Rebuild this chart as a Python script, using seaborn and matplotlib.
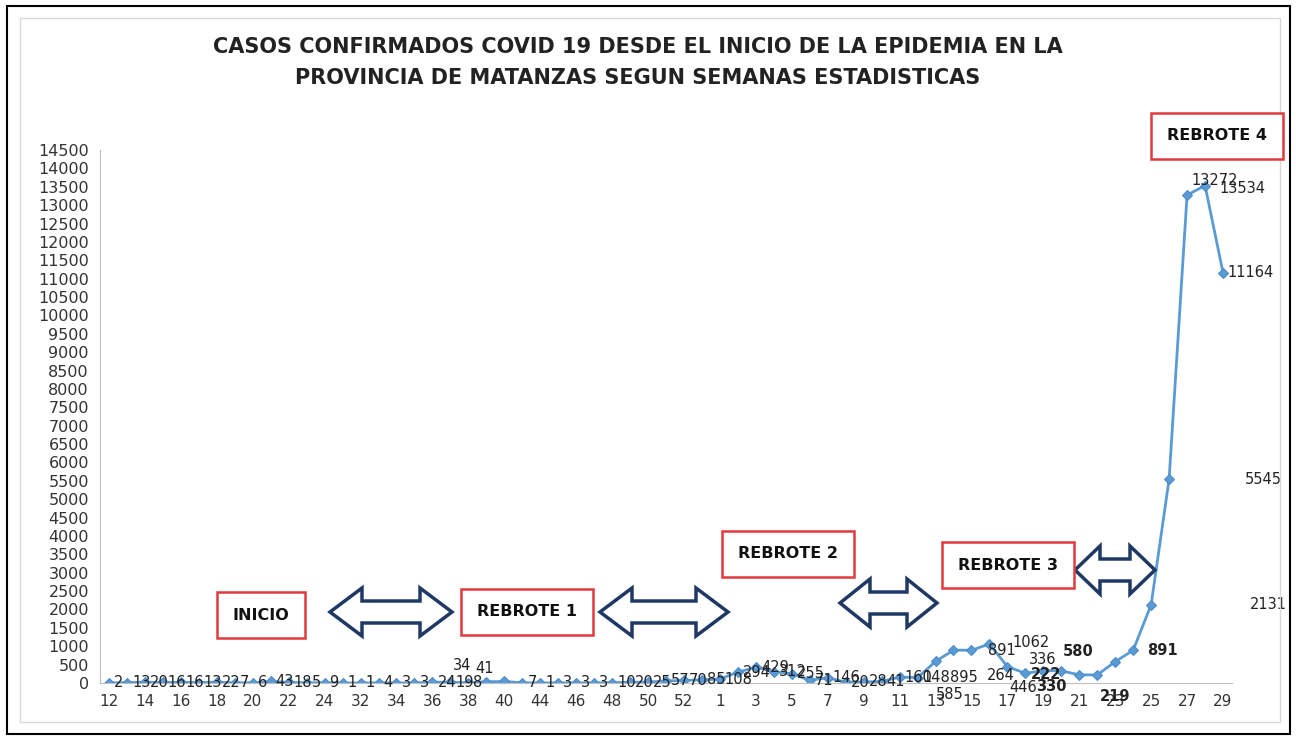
import pandas as pd
import matplotlib.pyplot as plt
import seaborn as sns
from matplotlib.patches import Polygon, Rectangle

# statistical weeks (2020 -> 2021) and confirmed cases
weeks = ['12', '13', '14', '15', '16', '17', '18', '19', '20', '21', '22', '23', '24',
         '31', '32', '33', '34', '35', '36', '37', '38', '39', '40', '42',
         '44', '45', '46', '47', '48', '49', '50', '51', '52', '53',
         '1', '2', '3', '4', '5', '6', '7', '8', '9', '10', '11', '12', '13', '14',
         '15', '16', '17', '18', '19', '20', '21', '22', '23', '24', '25', '26',
         '27', '28', '29']
cases = [2, 13, 20, 16, 16, 13, 22, 7, 6, 43, 18, 5, 9,
         1, 1, 4, 3, 3, 24, 19, 8, 34, 41, 7,
         1, 3, 3, 3, 10, 20, 25, 57, 70, 85,
         108, 294, 429, 312, 255, 71, 146, 20, 28, 41, 160, 148, 585, 895,
         891, 1062, 446, 264, 336, 330, 222, 219, 580, 891, 2131, 5545,
         13272, 13534, 11164]

# data labels that were moved by hand: index -> (dx px, dy px, bold)
moved = {21: (-33, 16, False), 22: (-29, 13, False),
         46: (0, -33, False), 47: (-3, -27, False), 48: (17, 0, False),
         49: (23, 1, False), 50: (2, -21, False), 51: (-38, -2, False),
         52: (-14, 11, False), 53: (-25, -16, True), 54: (-48, 0, True),
         55: (3, -22, True), 56: (-52, 10, True), 57: (14, 0, True),
         58: (99, 0, False), 59: (76, 0, False), 60: (4, 15, False),
         61: (14, -3, False), 62: (4, 0, False)}

df = pd.DataFrame({'pos': range(len(cases)), 'casos': cases})

sns.set_style('white')
plt.rcParams['font.family'] = ['DejaVu Sans']

W, H = 1296, 740
fig = plt.figure(figsize=(W / 100, H / 100), dpi=100)
ax = fig.add_axes([100 / W, (H - 683) / H, 1132 / W, 533 / H])

sns.lineplot(data=df, x='pos', y='casos', ax=ax, color='#5B9BD5', linewidth=2,
             marker='D', markersize=5, markeredgecolor='#4A8AC8')

for i, v in enumerate(cases):
    dx, dy, bold = moved.get(i, (5, 0, False))
    ax.annotate(str(v), (i, v), xytext=(dx, dy), textcoords='offset pixels',
                ha='left', va='center', fontsize=10.5, color='#222222',
                fontweight='bold' if bold else 'normal', zorder=5)

ax.set_xlim(-0.5, len(cases) - 0.5)
ax.set_ylim(0, 14500)
ax.set_yticks(range(0, 14501, 500))
ax.set_xticks(range(0, len(cases), 2))
ax.set_xticklabels(weeks[::2])
ax.set_xticks([i + 0.5 for i in range(-1, len(cases))], minor=True)
ax.set_xlabel('')
ax.set_ylabel('')
ax.tick_params(axis='y', length=4, color='#BFBFBF', labelsize=11.5, labelcolor='#333333', pad=4)
ax.tick_params(axis='x', which='major', length=0, labelsize=11, labelcolor='#333333', pad=8)
ax.tick_params(axis='x', which='minor', length=4, color='#BFBFBF')
for s in ['top', 'right']:
    ax.spines[s].set_visible(False)
for s in ['left', 'bottom']:
    ax.spines[s].set_color('#BFBFBF')

fig.text(638 / W, 1 - 47 / H, 'CASOS CONFIRMADOS COVID 19 DESDE EL INICIO DE LA EPIDEMIA EN LA',
         ha='center', va='center', fontsize=15, fontweight='bold', color='#222222')
fig.text(638 / W, 1 - 78 / H, 'PROVINCIA DE MATANZAS SEGUN SEMANAS ESTADISTICAS',
         ha='center', va='center', fontsize=15, fontweight='bold', color='#222222')

boxes = [('INICIO', 261, 615), ('REBROTE 1', 527, 612), ('REBROTE 2', 788, 554),
         ('REBROTE 3', 1008, 565), ('REBROTE 4', 1217, 136)]
for txt, bx, by in boxes:
    fig.text(bx / W, 1 - by / H, txt, ha='center', va='center', fontsize=11.5,
             fontweight='bold', color='#111111', zorder=6,
             bbox=dict(boxstyle='square,pad=1.0', fc='white', ec='#E0393E', lw=1.8))


def double_arrow(x0, x1, y, hl=32, hh=24, sh=11):
    pts = [(x0, y), (x0 + hl, y - hh), (x0 + hl, y - sh), (x1 - hl, y - sh),
           (x1 - hl, y - hh), (x1, y), (x1 - hl, y + hh), (x1 - hl, y + sh),
           (x0 + hl, y + sh), (x0 + hl, y + hh)]
    pts = [(px / W, 1 - py / H) for px, py in pts]
    fig.patches.append(Polygon(pts, closed=True, fc='white', ec='#1F3864', lw=2.5,
                               transform=fig.transFigure, zorder=4))


double_arrow(330, 452, 612)
double_arrow(600, 728, 612)
double_arrow(840, 937, 603, hl=30)
double_arrow(1075, 1155, 570, hl=25)

# frames around the chart
fig.patches.append(Rectangle((7 / W, 1 - 734 / H), 1283 / W, 728 / H, fill=False,
                             ec='black', lw=1.5, transform=fig.transFigure))
fig.patches.append(Rectangle((20 / W, 1 - 722 / H), 1260 / W, 704 / H, fill=False,
                             ec='#D9D9D9', lw=1, transform=fig.transFigure))

fig.savefig('out.png', dpi=100)
